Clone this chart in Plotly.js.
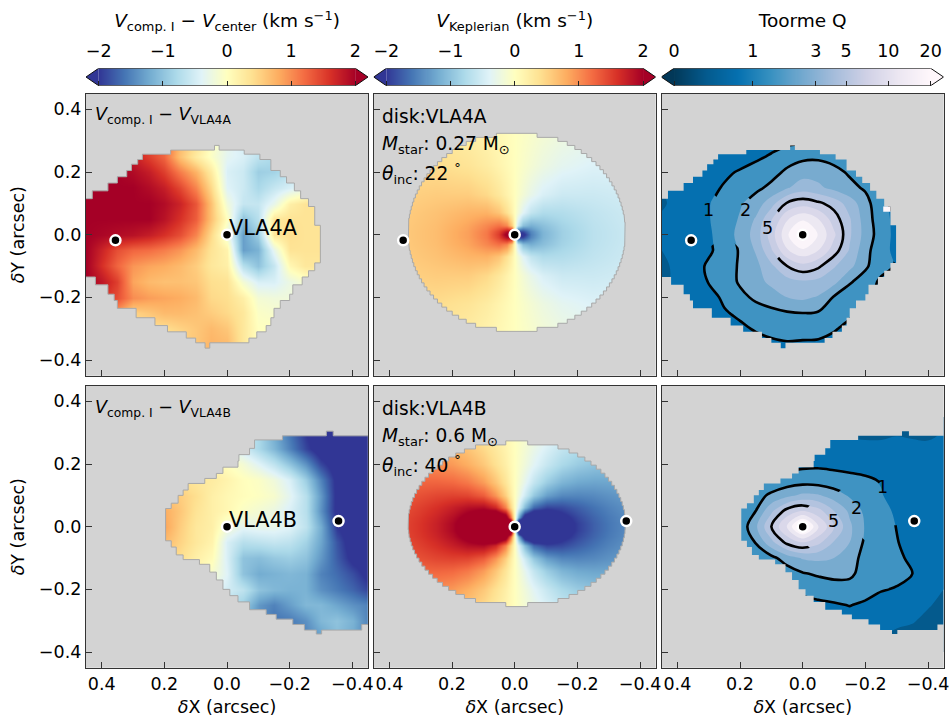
<!DOCTYPE html>
<html><head><meta charset="utf-8">
<script src="https://cdn.plot.ly/plotly-3.0.1.min.js"></script>
<style>html,body{margin:0;padding:0;background:#fff}</style></head>
<body><div id="chart" style="width:949px;height:720px"></div>
<script>
// ---- grids (arcsec) ----
const xGridA=[.45,.4,.35,.3,.25,.2,.15,.1,.05,0,-.05,-.1,-.15,-.2,-.25,-.3,-.35];
const xGridB=[.25,.2,.15,.1,.05,0,-.05,-.1,-.15,-.2,-.25,-.3,-.35,-.4,-.45];
const yGrid=[.3,.25,.2,.15,.1,.05,0,-.05,-.1,-.15,-.2,-.25,-.3,-.35];
const yGridQ=[.35,.3,.25,.2,.15,.1,.05,0,-.05,-.1,-.15,-.2,-.25,-.3,-.35,-.4];
// V_comp.I - V_VLA4A
const velOffsetA=[
[2,2,2,1.8,1.5,1.3,.7,.4,0,-.3,-.5,-.7,-.8,-.8,-.8,-.7,-.6],
[2,2,2,1.75,1.5,1.25,.65,.25,-.05,-.35,-.45,-.65,-.8,-.8,-.7,-.6,-.5],
[2,2,2,1.9,1.75,1.5,1.1,.75,.25,-.45,-.55,-.9,-.85,-.7,-.6,-.5,-.4],
[2,2,2,2,1.9,1.75,1.45,1.05,.45,-.4,-.55,-.8,-.6,-.45,-.3,-.2,-.1],
[2,2,2,2,2,1.9,1.7,1.35,.65,-.2,-.6,-.6,-.3,.2,.35,.35,.35],
[2,2,2,2,2,1.85,1.6,1.3,.65,0,-1,-.7,.3,.35,.35,.35,.35],
[2,1.95,1.9,1.85,1.75,1.6,1.4,1.05,.45,-.2,-1.3,-.9,.3,.4,.35,.35,.35],
[2,1.7,1.4,1.25,1.2,1.1,.95,.7,.35,.15,-1.3,-1.15,-.3,.35,.35,.35,.35],
[2,1.6,1.25,.95,.85,.8,.7,.55,.3,.2,-.7,-1,-.6,.1,.3,.3,.3],
[2,1.8,1.5,.85,.7,.65,.65,.6,.4,.35,-.15,-.45,-.45,-.25,-.1,0,0],
[2,1.6,1.4,1,.9,.85,.8,.7,.45,.4,.2,-.15,-.2,-.2,-.1,0,0],
[1,.9,.9,.5,.6,.7,.7,.65,.55,.45,.3,-.05,-.1,-.1,0,0,0],
[.5,.5,.5,.4,.4,.4,.5,.6,.7,.6,.3,0,0,0,0,0,0],
[.5,.5,.5,.5,.5,.5,.5,.6,.75,.7,.3,0,0,0,0,0,0]];
// V_comp.I - V_VLA4B
const velOffsetB=[
[-.4,-.4,-.4,-.4,-.4,-.4,-.5,-.8,-1.2,-1.6,-2,-2.2,-2.2,-2.2,-2.2],
[-.2,-.2,-.2,-.2,-.2,-.3,-.5,-.8,-1.1,-1.5,-1.9,-2.2,-2.2,-2.2,-2.2],
[.2,.2,.2,.2,.1,0,-.15,-.4,-.65,-1,-1.4,-1.9,-2.2,-2.2,-2.2],
[.6,.5,.4,.3,.25,.15,.02,-.05,-.2,-.45,-.9,-1.5,-2.1,-2.2,-2.2],
[.7,.6,.55,.4,.2,.1,.03,-.02,-.1,-.35,-.7,-1.35,-2.1,-2.2,-2.2],
[1,.8,.6,.35,.2,.1,-.05,-.15,-.25,-.45,-.7,-1.4,-2.1,-2.2,-2.2],
[1,.85,.55,.3,.2,-.15,-.35,-.3,-.3,-.4,-.65,-1.2,-2,-2.2,-2.2],
[.9,.7,.5,.3,.15,-.45,-.7,-.65,-.6,-.65,-.85,-1.25,-1.8,-2.2,-2.2],
[.6,.5,.4,.2,.05,-.45,-1,-1.05,-.95,-.9,-1,-1.35,-1.75,-2.1,-2.2],
[.4,.3,.2,.1,-.1,-.4,-1,-1.2,-1.15,-1.1,-1.15,-1.5,-1.65,-1.85,-2.1],
[.2,.1,0,-.2,-.3,-.5,-.65,-1,-1.1,-1.15,-1.15,-1.4,-1.55,-1.7,-1.9],
[0,0,-.2,-.4,-.6,-.7,-.9,-1.35,-1.5,-1.3,-1.1,-1.1,-1.25,-1.4,-1.5],
[0,0,-.4,-.6,-.8,-1,-1.2,-1.4,-1.6,-1.55,-1.4,-1.1,-1,-1.15,-1.5],
[0,0,-.4,-.6,-.8,-1,-1.2,-1.4,-1.6,-1.55,-1.5,-1.3,-1.05,-1.2,-1.5]];
// Toomre Q band values, VLA4A
const toomreA=[
[-.2,-.2,-.2,-.2,.1,.3,.5,.6,.7,.7,.7,.7,.7,.6,.5,.5,.5],
[-.2,-.2,-.2,-.2,.1,.3,.5,.6,.7,.8,.9,.9,.8,.6,.5,.5,.5],
[-.2,-.1,0,-.2,.2,.5,.8,1.1,1.6,1.75,1.8,1.6,1.4,1.1,.9,.8,.7],
[-.1,0,.2,.2,.8,1.1,1.4,1.7,2.15,2.6,2.6,2.3,1.85,1.6,1.1,.9,.8],
[0,.15,.3,.7,1.1,1.4,1.8,2.2,2.9,3.5,3.2,2.7,2.3,1.85,1.5,1.2,1],
[-.1,.2,.5,.95,1.4,1.9,2.4,3.6,5.1,5.6,5.2,4.6,3.5,2.4,1.2,.8,.7],
[.1,.3,.6,.95,1.45,2.1,3.1,4.9,6.9,7.8,7,5.5,4.1,2.5,1.4,.7,.6],
[.2,.3,.55,.85,1.5,2.3,3.4,5.5,7.8,10,7.9,6.2,4.15,2.6,1.5,.7,.6],
[0,.3,.55,.85,1.4,2.1,3.1,4.9,6.9,7.8,7,5.5,3.9,2.3,1.4,.7,.6],
[-.2,.2,.6,1.15,1.6,2.1,2.7,3.8,5,5.7,5.2,4.1,3.3,2.15,1.4,.9,.7],
[-.2,.2,.5,1.05,1.4,2.15,2.7,3.2,3.6,3.85,3.7,3.3,2.1,1.6,.8,.6,.5],
[0,.1,.2,.6,1.2,1.7,2.2,2.6,3,3.2,2.9,1.9,1.5,1.2,.8,.6,.5],
[0,.1,.1,.4,.9,1.2,1.5,1.7,1.9,2,1.9,1.6,1.1,.8,.6,.5,.5],
[.1,.1,.2,.3,.5,.8,1.1,1.3,1.4,1.4,1.3,1.05,.85,.6,.5,.5,.5],
[.2,.2,.2,.3,.4,.5,.6,.8,.9,.85,.85,.8,.6,.5,.5,.5,.5],
[.2,.2,.2,.3,.4,.5,.5,.6,.6,.6,.6,.6,.5,.5,.5,.5,.5]];
// Toomre Q band values, VLA4B
const toomreB=[
[-.5,-.5,-.5,-.5,-.5,-.5,-.3,-.2,-.2,-.3,-.3,.1,.1,-.3,.1],
[-.5,-.5,-.5,-.5,-.5,-.5,-.3,-.2,-.2,-.3,-.3,-.1,-.2,-.3,.1],
[.3,.3,.3,.3,.3,.3,.3,.35,.35,.35,.35,.35,.3,.3,.4],
[.5,.5,.5,.6,.7,.8,.85,.8,.75,.7,.55,.5,.45,.4,.4],
[1.1,1.2,1.3,1.35,1.4,1.45,1.4,1.3,1.2,1.1,.95,.6,.5,.5,.45],
[1.2,1.4,1.7,2.15,2.7,3.2,3.1,2.5,1.85,1.5,1.05,.7,.5,.5,.45],
[1.1,1.5,2,3.8,5.4,6,5.4,4,2.8,1.75,1.3,.85,.6,.5,.45],
[.7,1.3,2.8,5,7.1,10,7.1,5.1,3.2,1.9,1.45,.97,.7,.5,.45],
[.7,1.2,2.05,3.7,5.3,6,5.3,3.9,3,1.8,1.4,1.05,.65,.5,.4],
[.4,.7,1.2,1.7,2.5,3.1,3.2,3,2.5,1.6,1.35,1.15,.85,.5,.3],
[.3,.5,.8,1.2,1.45,1.9,2.15,2.3,2.25,1.5,1.3,1.2,1,.5,.2],
[.2,.3,.5,.7,1,1.15,1.3,1.5,1.5,1.35,1.05,.95,.7,.35,0],
[.5,.5,.5,.5,.7,.8,.85,.9,1.03,.85,.7,.5,.35,.1,-.3],
[.5,.5,.5,.5,.5,.5,.5,.6,.6,.5,.35,.2,.1,-.3,-.6],
[.5,.5,.5,.5,.5,.5,.5,.5,.4,.2,.1,-.2,-.4,-.6,-.8],
[.5,.5,.5,.5,.5,.5,.5,.5,.4,.2,.1,-.2,-.4,-.6,-.8]];
// places where the drawn contour line is interrupted [X,Y]
const lineGapsA=[[.3,.1],[.3,.05],[.3,0],[.2,.1],[.2,.05],[.2,0],[.1,.05],[.1,0],[.1,-.05],[-.3,.05],[-.3,0],[-.3,-.05]];
const lineGapsB=[[-.25,.1],[-.25,.05],[-.3,.05],[-.15,.1],[-.15,.05],[-.2,.05],[-.2,0],[-.05,.05],[-.1,.05],[-.1,0],[-.05,-.05],[-.1,-.05]];
// single very high Q cell at the upper right of the VLA4A map
const toomreHotCellX=[-.257,-.28,-.28,-.257,-.257];
const toomreHotCellY=[.073,.073,.09,.09,.073];

// Keplerian line-of-sight field, one quadrant (X>0,Y>=0)
const keplerAx=[.36,.25,.15,.09,.05,.025,.01];
const keplerAy=[.34,.22,.13,.07,.03,.01,0];
const keplerA=[
[.332,.287,.204,.132,.075,.038,.015],
[.432,.42,.342,.239,.142,.073,.029],
[.51,.554,.548,.449,.296,.158,.064],
[.549,.637,.74,.76,.623,.378,.161],
[.563,.671,.848,1.034,1.168,1.03,.545],
[.57,.68,.88,1.12,1.47,1.89,1.91],
[.57,.68,.88,1.13,1.52,2.15,2.5]];
const keplerBx=[.36,.3,.25,.2,.15,.1,.06,.03,.012];
const keplerBy=[.28,.2,.14,.1,.06,.03,.012,0];
const keplerB=[
[.849,.799,.735,.644,.523,.371,.231,.117,.047],
[1.05,1.036,.996,.919,.787,.586,.375,.193,.078],
[1.215,1.248,1.256,1.228,1.13,.911,.616,.326,.133],
[1.32,1.39,1.45,1.48,1.46,1.3,.955,.53,.219],
[1.39,1.5,1.61,1.74,1.87,1.91,1.68,1.07,.466],
[1.43,1.56,1.7,1.88,2.13,2.46,2.71,2.37,1.25],
[1.44,1.58,1.73,1.94,2.24,2.74,3,3,3],
[1.44,1.58,1.73,1.94,2.24,2.74,3,3,3]];

// valid-data outline, per row: top Y of row, left X, right X
const maskATop=[.285,.27,.257,.24,.225,.205,.185,.165,.14,.115,.09,.03,-.09,-.115,-.135,-.16,-.19,-.21,-.235,-.265,-.29,-.31,-.33,-.345];
const maskALeft=[.04,.18,.27,.285,.305,.32,.35,.38,.43,.46,.46,.46,.46,.46,.42,.38,.36,.35,.29,.23,.19,.13,.10,.07];
const maskARight=[.025,-.055,-.105,-.14,-.14,-.17,-.19,-.215,-.235,-.26,-.28,-.298,-.28,-.26,-.24,-.21,-.2,-.17,-.15,-.14,-.125,-.095,-.07,.055];
const maskABottom=-.362;
const maskBTop=[.305,.29,.277,.25,.23,.21,.19,.17,.154,.138,.117,.1,.075,.058,-.045,-.065,-.09,-.105,-.12,-.145,-.17,-.2,-.22,-.24,-.265,-.28,-.295,-.312,-.33];
const maskBLeft=[-.317,-.177,-.088,-.072,-.038,-.035,.013,.034,.071,.124,.14,.156,.178,.196,.178,.162,.14,.088,.055,.034,.013,-.009,-.035,-.072,-.125,-.157,-.21,-.247,-.285];
const maskBRight=[-.339,-.46,-.46,-.46,-.46,-.46,-.46,-.46,-.46,-.46,-.46,-.46,-.46,-.46,-.46,-.46,-.46,-.46,-.46,-.46,-.46,-.46,-.46,-.46,-.46,-.46,-.46,-.43,-.302];
const maskBBottom=-.3425;
// Keplerian disc outlines: half width of each row going outward from the disc centre
const discRowHeight=.0129;
const discACentre=[-.0065,.0075];
const discAHalf=[.347,.3467,.3459,.3446,.3425,.3399,.3367,.3329,.3285,.3234,.3176,.3111,.3038,.2957,.2867,.2766,.2655,.253,.2392,.2236,.2059,.1854,.1612,.1312,.065];
const discBCentre=[-.0065,.0095];
const discBHalf=[.347,.3466,.3453,.3433,.3404,.3366,.3319,.3262,.3196,.3119,.3031,.293,.2816,.2686,.2539,.237,.2175,.1946,.167,.1316,.035];

// stars
const starsAx=[0,.356], starsAy=[0,-.018];
const starsBx=[0,-.356], starsBy=[0,.018];

// ticks and labels
const panelTicks=[.4,.2,0,-.2,-.4];
const xTickLabels=['0.4','0.2','0.0','\u22120.2','\u22120.4'];
const yTickValues=[-.4,-.2,0,.2,.4];
const yTickLabels=['\u22120.4','\u22120.2','0.0','0.2','0.4'];
const velTicks=[-2,-1,0,1,2];
const velTickLabels=['\u22122','\u22121','0','1','2'];
const toomreTicks=[0,.3065,.552,.670,.835,1];
const toomreTickLabels=['0','1','3','5','10','20'];

// colours
const RdYlBu_r=[[0,'#313695'],[.1,'#4575b4'],[.2,'#74add1'],[.3,'#abd9e9'],[.4,'#e0f3f8'],[.5,'#ffffbf'],[.6,'#fee090'],[.7,'#fdae61'],[.8,'#f46d43'],[.9,'#d73027'],[1,'#a50026']];
const PuBu_r=[[0,'#023858'],[.125,'#045a8d'],[.25,'#0570b0'],[.375,'#3690c0'],[.5,'#74a9cf'],[.625,'#a6bddb'],[.75,'#d0d1e6'],[.875,'#ece7f2'],[1,'#fff7fb']];
const bandColors=['#045a8d','#0570b0','#3f93c2','#78abcf','#99b9d9','#b3c3df','#c8cde4','#dad8ea','#ece8f2','#fbf5fa'];
const GRAY='#d3d3d3', EDGE='#a9a9a9', FRAME='#333333';
const FONT='"DejaVu Sans"';

// ---- geometry of the figure ----
const W=949,H=720,PW=282;
const colLeft=[86,373.7,661.7], rowTop=[93.7,385.7];
const barTop=68.3,barBottom=85.7;
const dx=(a,b)=>[a/W,b/W], dy=(t,b)=>[1-b/H,1-t/H];

function mirrorField(qx,qy,q){
  const xs=[...qx,0,...qx.slice().reverse().map(v=>-v)];
  const ys=[...qy,...qy.slice(0,-1).reverse().map(v=>-v)];
  const rows=[...q,...q.slice(0,-1).reverse()];
  const z=rows.map(r=>[...r,0,...r.slice().reverse().map(v=>-v)]);
  return {x:xs,y:ys,z};
}
function outline(top,left,right,bottom){
  const xs=[],ys=[];
  for(let i=0;i<top.length;i++){
    const b=i+1<top.length?top[i+1]:bottom;
    xs.push(right[i],right[i]); ys.push(top[i],b);
  }
  for(let i=top.length-1;i>=0;i--){
    const b=i+1<top.length?top[i+1]:bottom;
    xs.push(left[i],left[i]); ys.push(b,top[i]);
  }
  xs.push(xs[0]); ys.push(ys[0]);
  return {x:xs,y:ys};
}
function discOutline(half,centre,h){
  const n=half.length-1, top=[],left=[],right=[];
  for(let k=n;k>=-n;k--){
    const w=half[Math.abs(k)];
    top.push(centre[1]+(k+.5)*h); left.push(centre[0]+w); right.push(centre[0]-w);
  }
  return outline(top,left,right,centre[1]+(-n-.5)*h);
}
function withGaps(xs,ys,z,gaps){
  const out=z.map(r=>r.slice());
  gaps.forEach(g=>{out[ys.indexOf(g[1])][xs.indexOf(g[0])]=null;});
  return out;
}

const traces=[];
function maskTraces(o,ax,ay,drawEdge){
  // grey surround with the data region as a hole
  const B=.5;
  const xs=[-B,B,B,-B,-B,...o.x,-B], ys=[B,B,-B,-B,B,...o.y,B];
  traces.push({type:'scatter',mode:'lines',x:xs,y:ys,xaxis:ax,yaxis:ay,fill:'toself',fillcolor:GRAY,line:{width:0,color:GRAY},hoverinfo:'skip',showlegend:false});
  if(drawEdge) traces.push({type:'scatter',mode:'lines',x:o.x,y:o.y,xaxis:ax,yaxis:ay,line:{color:EDGE,width:1},hoverinfo:'skip',showlegend:false});
}
function starTrace(x,y,ax,ay){
  traces.push({type:'scatter',mode:'markers',x,y,xaxis:ax,yaxis:ay,marker:{size:10,color:'#000',line:{color:'#fff',width:2.5}},hoverinfo:'skip',showlegend:false});
}
function velPanel(x,y,z,ax,ay){
  traces.push({type:'heatmap',x,y,z,xaxis:ax,yaxis:ay,colorscale:RdYlBu_r,zmin:-2,zmax:2,zsmooth:'best',showscale:false,hoverinfo:'skip'});
}
function toomrePanel(x,y,z,gaps,ax,ay){
  const cs=bandColors.map((c,i)=>[i/(bandColors.length-1),c]);
  traces.push({type:'contour',x,y,z,xaxis:ax,yaxis:ay,colorscale:cs,showscale:false,autocontour:false,
    contours:{start:0,end:8,size:1,coloring:'fill',showlines:false},line:{width:0,smoothing:1},hoverinfo:'skip'});
  const zl=withGaps(x,y,z,gaps);
  [[1,2],[5,5]].forEach(l=>{
    traces.push({type:'contour',x,y,z:zl,xaxis:ax,yaxis:ay,showscale:false,autocontour:false,connectgaps:false,
      contours:{start:l[0],end:l[1],size:1,coloring:'none'},line:{color:'#000',width:2.6,smoothing:1},hoverinfo:'skip'});
  });
}
const kA=mirrorField(keplerAx,keplerAy,keplerA), kB=mirrorField(keplerBx,keplerBy,keplerB);
const mA=outline(maskATop,maskALeft,maskARight,maskABottom);
const mB=outline(maskBTop,maskBLeft,maskBRight,maskBBottom);
const mKA=discOutline(discAHalf,discACentre,discRowHeight);
const mKB=discOutline(discBHalf,discBCentre,discRowHeight);

velPanel(xGridA,yGrid,velOffsetA,'x','y');
velPanel(kA.x,kA.y,kA.z,'x2','y2');
toomrePanel(xGridA,yGridQ,toomreA,lineGapsA,'x3','y3');
velPanel(xGridB,yGrid,velOffsetB,'x4','y4');
velPanel(kB.x,kB.y,kB.z,'x5','y5');
toomrePanel(xGridB,yGridQ,toomreB,lineGapsB,'x6','y6');
maskTraces(mA,'x','y',true);
maskTraces(mKA,'x2','y2',true);
maskTraces(mA,'x3','y3',false);
maskTraces(mB,'x4','y4',true);
maskTraces(mKB,'x5','y5',true);
maskTraces(mB,'x6','y6',false);
traces.push({type:'scatter',mode:'lines',x:toomreHotCellX,y:toomreHotCellY,xaxis:'x3',yaxis:'y3',fill:'toself',fillcolor:'#fff7fb',line:{width:0},hoverinfo:'skip',showlegend:false});
['','2','3'].forEach(s=>starTrace(starsAx,starsAy,'x'+s,'y'+s));
['4','5','6'].forEach(s=>starTrace(starsBx,starsBy,'x'+s,'y'+s));

// colour bars
function ramp(lo,hi,n){const e=[],c=[];for(let i=0;i<=n;i++)e.push(lo+(hi-lo)*i/n);for(let i=0;i<n;i++)c.push(lo+(hi-lo)*(i+.5)/n);return {e,c};}
function colorBar(idx,lo,hi,tip,scale,leftColor,rightColor,ticks){
  const ax='x'+idx, ay='y'+idx, top='x'+(idx+3);
  const r=ramp(lo,hi,256);
  traces.push({type:'heatmap',x:r.e,y:[0,1],z:[r.c],xaxis:ax,yaxis:ay,colorscale:scale,zmin:lo,zmax:hi,showscale:false,hoverinfo:'skip'});
  traces.push({type:'scatter',mode:'lines',x:[lo,lo-tip,lo,lo],y:[0,.5,1,0],xaxis:ax,yaxis:ay,fill:'toself',fillcolor:leftColor,line:{width:0},hoverinfo:'skip',showlegend:false});
  traces.push({type:'scatter',mode:'lines',x:[hi,hi+tip,hi,hi],y:[0,.5,1,0],xaxis:ax,yaxis:ay,fill:'toself',fillcolor:rightColor,line:{width:0},hoverinfo:'skip',showlegend:false});
  traces.push({type:'scatter',mode:'lines',x:[lo,lo-tip,lo,hi,hi+tip,hi,lo],y:[0,.5,1,1,.5,0,0],xaxis:ax,yaxis:ay,line:{color:'#111',width:1},cliponaxis:false,hoverinfo:'skip',showlegend:false});
  traces.push({type:'scatter',mode:'markers',x:ticks,y:ticks.map(()=>.5),xaxis:top,yaxis:ay,marker:{size:1,opacity:0},hoverinfo:'skip',showlegend:false});
}
colorBar(7,-2,2,.197,RdYlBu_r,'#313695','#a50026',velTicks);
colorBar(8,-2,2,.197,RdYlBu_r,'#313695','#a50026',velTicks);
colorBar(9,0,1,.05,PuBu_r,'#023858','#fff7fb',toomreTicks);

const layout={width:W,height:H,margin:{l:0,r:0,t:0,b:0},paper_bgcolor:'#fff',plot_bgcolor:'#fff',showlegend:false,
  font:{family:FONT,size:17.5,color:'#000'},annotations:[]};
const tickFont={family:FONT,size:17.5,color:'#000'};
for(let r=0;r<2;r++)for(let c=0;c<3;c++){
  const i=r*3+c+1, s=i===1?'':String(i), left=colLeft[c], top=rowTop[r];
  layout['xaxis'+s]={domain:dx(left,left+PW),range:[.45,-.45],anchor:'y'+s,side:'bottom',ticks:'inside',ticklen:6,tickwidth:1,tickcolor:FRAME,
    tickmode:'array',tickvals:panelTicks,ticktext:xTickLabels,showticklabels:r===1,tickfont:tickFont,ticklabeloverflow:'allow',
    showline:true,mirror:true,linecolor:FRAME,linewidth:1.3,showgrid:false,zeroline:false,
    title:r===1?{text:'<i>\u03b4</i>X (arcsec)',font:{family:FONT,size:17.5},standoff:7}:undefined};
  layout['yaxis'+s]={domain:dy(top,top+PW),range:[-.45,.45],anchor:'x'+s,side:'left',ticks:'inside',ticklen:6,tickwidth:1,tickcolor:FRAME,
    tickmode:'array',tickvals:yTickValues,ticktext:yTickLabels,showticklabels:c===0,tickfont:tickFont,
    showline:true,mirror:true,linecolor:FRAME,linewidth:1.3,showgrid:false,zeroline:false,
    title:c===0?{text:'<i>\u03b4</i>Y (arcsec)',font:{family:FONT,size:17.5},standoff:9}:undefined};
}
const barTitles=['<i>V</i><sub>comp. I</sub> \u2212 <i>V</i><sub>center</sub> (km s<sup>\u22121</sup>)','<i>V</i><sub>Keplerian</sub> (km s<sup>\u22121</sup>)','Toorme Q'];
[[7,-2.197,2.197,velTicks,velTickLabels],[8,-2.197,2.197,velTicks,velTickLabels],[9,-.048,1.0506,toomreTicks,toomreTickLabels]].forEach((b,k)=>{
  const id=b[0], left=colLeft[k];
  layout['xaxis'+id]={domain:dx(left,left+PW),range:[b[1],b[2]],anchor:'y'+id,side:'bottom',ticks:'inside',ticklen:5,tickwidth:1,tickcolor:'#222',
    tickmode:'array',tickvals:b[3],showticklabels:false,showgrid:false,zeroline:false,showline:false};
  layout['yaxis'+id]={domain:dy(barTop,barBottom),range:[0,1],anchor:'x'+id,showticklabels:false,ticks:'',showgrid:false,zeroline:false,showline:false};
  layout['xaxis'+(id+3)]={overlaying:'x'+id,range:[b[1],b[2]],anchor:'y'+id,side:'top',ticks:'outside',ticklen:3,tickcolor:'rgba(0,0,0,0)',
    tickmode:'array',tickvals:b[3],ticktext:b[4],tickfont:tickFont,showgrid:false,zeroline:false,showline:false,
    title:{text:barTitles[k],font:{family:FONT,size:18.5},standoff:8}};
});
function paperText(text,px,py,size){
  layout.annotations.push({xref:'paper',yref:'paper',x:px/W,y:1-py/H,text,showarrow:false,xanchor:'left',yanchor:'middle',font:{family:FONT,size,color:'#000'},borderpad:0});
}
paperText('<i>V</i><sub>comp. I</sub> \u2212 <i>V</i><sub>VLA4A</sub>',94,116,17.6);
paperText('<i>V</i><sub>comp. I</sub> \u2212 <i>V</i><sub>VLA4B</sub>',94,408,17.6);
paperText('disk:VLA4A',381,117,18.6);
paperText('<i>M</i><sub>star</sub>: 0.27 M<sub>\u2299</sub>',381,145,18.6);
paperText('<i>\u03b8</i><sub>inc</sub>: 22 <sup>\u00b0</sup>',381,173,18.6);
paperText('disk:VLA4B',381,408,18.6);
paperText('<i>M</i><sub>star</sub>: 0.6 M<sub>\u2299</sub>',381,437,18.6);
paperText('<i>\u03b8</i><sub>inc</sub>: 40 <sup>\u00b0</sup>',381,465,18.6);
function dataText(text,x,y,ax,ay,size,anchor){
  layout.annotations.push({xref:ax,yref:ay,x,y,text,showarrow:false,xanchor:anchor,yanchor:'middle',font:{family:FONT,size,color:'#000'},borderpad:0});
}
dataText('VLA4A',-.003,.022,'x','y',20.8,'left');
dataText('VLA4B',-.003,.022,'x4','y4',20.8,'left');
dataText('1',.30,.079,'x3','y3',17.5,'center');
dataText('2',.182,.079,'x3','y3',17.5,'center');
dataText('5',.112,.02,'x3','y3',17.5,'center');
dataText('1',-.255,.128,'x6','y6',17.5,'center');
dataText('2',-.171,.059,'x6','y6',17.5,'center');
dataText('5',-.099,.019,'x6','y6',17.5,'center');

Plotly.newPlot('chart',traces,layout,{displayModeBar:false,responsive:false});
</script></body></html>
